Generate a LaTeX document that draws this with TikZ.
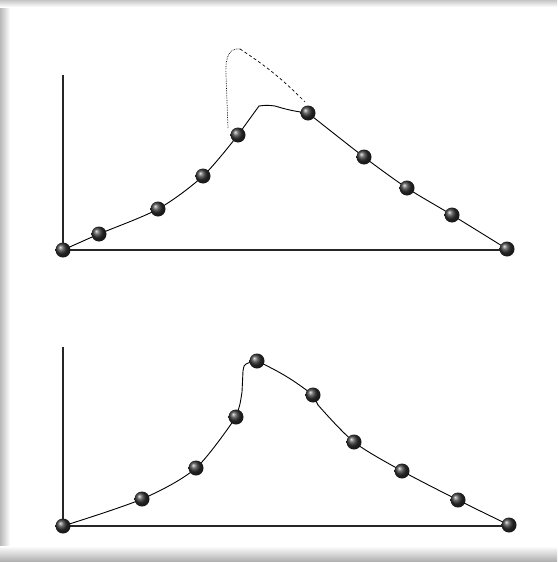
\documentclass[tikz,border=0pt]{standalone}
\begin{document}
\begin{tikzpicture}[x=1pt,y=-1pt,
  ballnode/.style={circle,minimum size=15pt,inner sep=0pt,shading=ball,ball color=gray!40!black},
  axisline/.style={line width=1.4pt,black!85},
  curveline/.style={line width=0.9pt,black}]
\useasboundingbox (0,0) rectangle (557,562);
\fill[white] (0,0) rectangle (557,562);
\shade[left color=gray!55,right color=white] (0,0) rectangle (10,562);
\shade[top color=gray!45,bottom color=white] (0,0) rectangle (557,7);
\shade[top color=white,bottom color=gray!65] (0,546) rectangle (557,562);
% top chart
\coordinate (ta) at (63,75);
\coordinate (tb) at (507,250);
\coordinate (t1) at (63,250);
\coordinate (t2) at (99,234);
\coordinate (t3) at (158,209);
\coordinate (t4) at (203,176);
\coordinate (t5) at (238,135);
\coordinate (p1) at (259,106);
\coordinate (p2) at (275,106);
\coordinate (t6) at (308,113);
\coordinate (t7) at (364,157);
\coordinate (t8) at (407,188);
\coordinate (t9) at (452,215);
\coordinate (t10) at (507,249);
\draw[axisline] (ta) -- (t1) -- (tb);
\draw[curveline] plot[smooth,tension=0.5] coordinates {(t1) (t2) (t3) (t4) (t5)};
\draw[curveline] (t5) -- (p1) to[bend left=8] (p2) to[bend right=5] (t6);
\draw[curveline] plot[smooth,tension=0.5] coordinates {(t6) (t7) (t8) (t9) (t10)};
\coordinate (d1) at (228,128);
\coordinate (d2) at (226,75);
\coordinate (dtop) at (240,49);
\coordinate (d3) at (305,102);
\draw[densely dotted,line width=0.7pt] (d1) -- (d2) .. controls (225,55) and (230,48) .. (dtop);
\draw[dashed,dash pattern=on 3pt off 2.5pt,line width=0.7pt] (dtop) to[bend left=6] (d3);
\foreach \n in {t1,t2,t3,t4,t5,t6,t7,t8,t9,t10}{\node[ballnode] (n\n) at (\n) {};}
% bottom chart
\coordinate (ba) at (63,347);
\coordinate (bb) at (509,526);
\coordinate (b1) at (63,526);
\coordinate (b2) at (142,499);
\coordinate (b3) at (196,468);
\coordinate (b4) at (236,417);
\coordinate (q1) at (242,392);
\coordinate (q2) at (243,371);
\coordinate (q3) at (248,363);
\coordinate (b5) at (257,361);
\coordinate (b6) at (313,395);
\coordinate (q4) at (318,405);
\coordinate (b7) at (354,442);
\coordinate (b8) at (402,471);
\coordinate (b9) at (458,500);
\coordinate (b10) at (509,525);
\draw[axisline] (ba) -- (b1) -- (bb);
\draw[curveline] plot[smooth,tension=0.5] coordinates {(b1) (b2) (b3) (b4)};
\draw[curveline] (b4) .. controls (240,405) .. (q1) -- (q2) .. controls (244,365) .. (q3) -- (b5);
\draw[curveline] (b5) to[bend left=6] (b6) -- (q4);
\draw[curveline] plot[smooth,tension=0.5] coordinates {(q4) (b7) (b8) (b9) (b10)};
\foreach \n in {b1,b2,b3,b4,b5,b6,b7,b8,b9,b10}{\node[ballnode] (n\n) at (\n) {};}
\end{tikzpicture}
\end{document}
